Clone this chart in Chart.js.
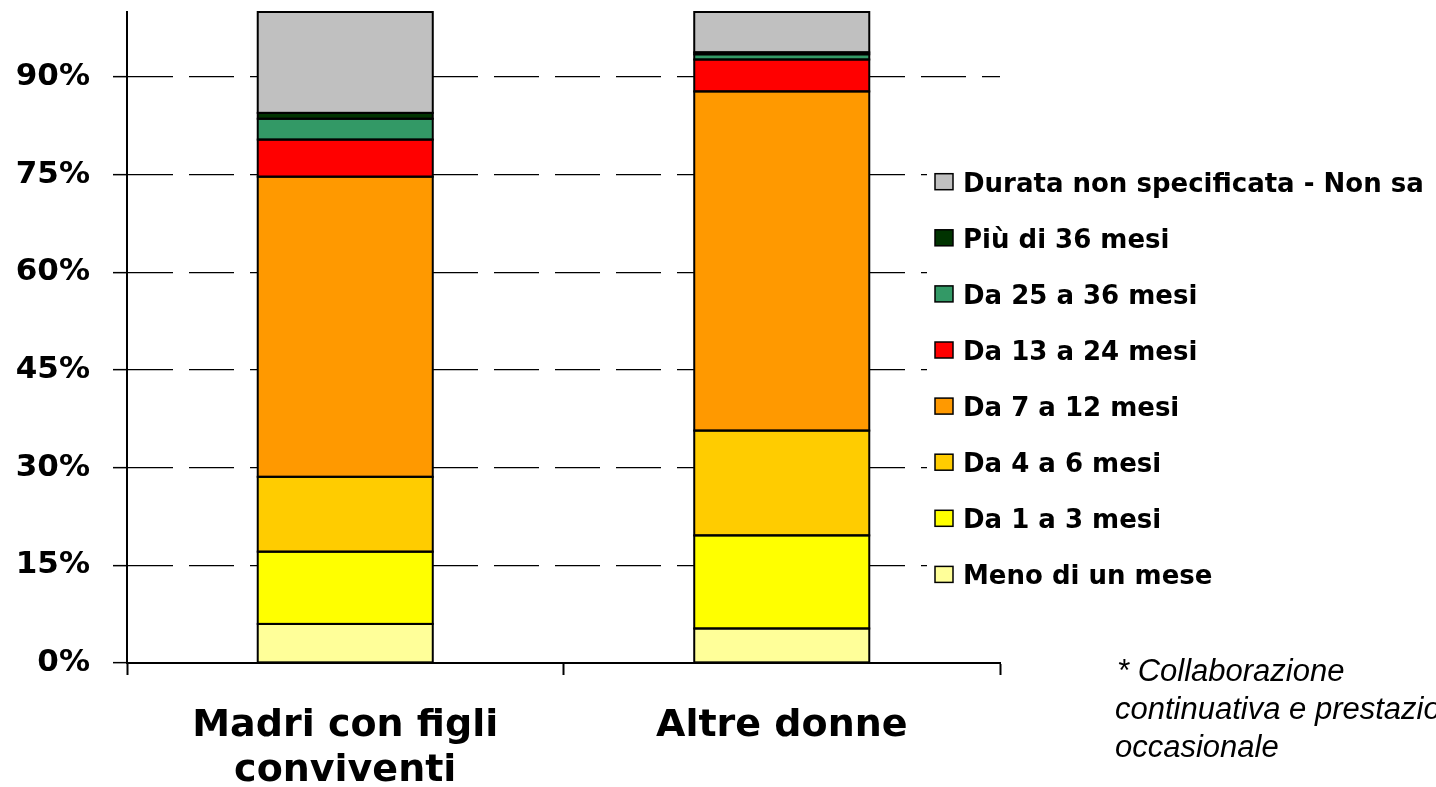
<!DOCTYPE html>
<html>
<head>
<meta charset="utf-8">
<script src="https://cdn.jsdelivr.net/npm/chart.js@4.4.1/dist/chart.umd.min.js"></script>
<style>
  html, body { margin: 0; padding: 0; background: #fff; overflow: hidden; }
  #wrap { position: relative; width: 1436px; height: 787px; overflow: hidden; }
  #note { position: absolute; left: 1115px; top: 652px; font-family: "Liberation Sans", Arial, sans-serif; font-style: italic; font-size: 31px; line-height: 38px; color: #000; white-space: nowrap; }
  #note span { padding-left: 2px; }
</style>
</head>
<body>
<div id="wrap">
  <canvas id="c" width="1436" height="787"></canvas>
  <div id="note"><span>* Collaborazione</span><br>continuativa e prestazione<br>occasionale</div>
</div>
<script>
const categories = [["Madri con figli", "conviventi"], "Altre donne"];
const seriesNames = [
  "Meno di un mese", "Da 1 a 3 mesi", "Da 4 a 6 mesi", "Da 7 a 12 mesi",
  "Da 13 a 24 mesi", "Da 25 a 36 mesi", "Più di 36 mesi", "Durata non specificata - Non sa"
];
const seriesColors = ["#FFFF99", "#FFFF00", "#FFCC00", "#FF9900", "#FF0000", "#339966", "#003300", "#C0C0C0"];
const meno1mese   = [6.0, 5.3];
const da1a3       = [11.1, 14.3];
const da4a6       = [11.5, 16.1];
const da7a12      = [46.1, 52.1];
const da13a24     = [5.7, 4.9];
const da25a36     = [3.2, 0.8];
const oltre36     = [0.9, 0.3];
const nonSpecif   = [15.5, 6.2];
const seriesValues = [meno1mese, da1a3, da4a6, da7a12, da13a24, da25a36, oltre36, nonSpecif];
const yTickStep = 15;

const datasets = seriesNames.map((name, i) => ({
  label: name,
  data: seriesValues[i],
  backgroundColor: seriesColors[i],
  borderWidth: 0,
  categoryPercentage: 1,
  barPercentage: 0.401
}));

// Outline each bar segment using the positions computed by Chart.js
const outlinePlugin = {
  id: "barOutline",
  afterDatasetsDraw(chart) {
    const ctx = chart.ctx;
    ctx.save();
    ctx.strokeStyle = "#000";
    ctx.lineWidth = 2;
    chart.data.datasets.forEach((ds, i) => {
      const meta = chart.getDatasetMeta(i);
      meta.data.forEach(el => {
        const p = el.getProps(["x", "y", "base", "width"], true);
        const top = Math.min(p.y, p.base), h = Math.abs(p.base - p.y);
        ctx.strokeRect(p.x - p.width / 2, top, p.width, h);
      });
    });
    ctx.restore();
  }
};

const legendPlugin = {
  id: "sideLegend",
  afterDraw(chart) {
    const ctx = chart.ctx;
    ctx.save();
    ctx.fillStyle = "#fff";
    ctx.fillRect(927, 160, 509, 440);
    const items = chart.data.datasets.slice().reverse();
    const startY = 181.7, step = 56.1;
    ctx.font = "bold 26px 'DejaVu Sans'";
    ctx.textAlign = "left";
    ctx.textBaseline = "alphabetic";
    items.forEach((ds, i) => {
      const cy = startY + i * step;
      ctx.fillStyle = ds.backgroundColor;
      ctx.fillRect(935, cy - 8, 18, 16);
      ctx.strokeStyle = "#000";
      ctx.lineWidth = 1.5;
      ctx.strokeRect(935, cy - 8, 18, 16);
      ctx.fillStyle = "#000";
      ctx.fillText(ds.label, 963, cy + 10);
    });
    ctx.restore();
  }
};

new Chart(document.getElementById("c"), {
  type: "bar",
  data: { labels: categories, datasets },
  plugins: [outlinePlugin, legendPlugin],
  options: {
    responsive: false,
    devicePixelRatio: 1,
    animation: false,
    layout: { padding: { top: 12, right: 436, bottom: 0, left: 0 } },
    plugins: { legend: { display: false }, tooltip: { enabled: false } },
    scales: {
      x: {
        stacked: true,
        afterFit: s => { s.height = 124; s.paddingLeft = 0; s.paddingRight = 0; },
        grid: { display: true, drawOnChartArea: false, drawTicks: true, tickLength: 12, tickColor: "#000", tickWidth: 2, offset: true },
        border: { display: true, color: "#000", width: 2 },
        ticks: { color: "#000", padding: 28, font: { family: "'DejaVu Sans'", size: 38, weight: "bold", lineHeight: 1.2 }, maxRotation: 0 }
      },
      y: {
        stacked: true,
        min: 0,
        max: 100,
        afterFit: s => { s.width = 127; s.paddingTop = 0; s.paddingBottom = 0; },
        grid: { color: "#000", lineWidth: 1.3, tickLength: 14, tickColor: "#000", tickWidth: 1.5, tickBorderDash: [] },
        border: { display: true, color: "#000", width: 2, dash: [45, 16] },
        ticks: {
          stepSize: yTickStep,
          includeBounds: false,
          padding: 23,
          color: "#000",
          font: { family: "'DejaVu Sans'", size: 31, weight: "bold" },
          callback: v => v + "%"
        }
      }
    }
  }
});
</script>
</body>
</html>
